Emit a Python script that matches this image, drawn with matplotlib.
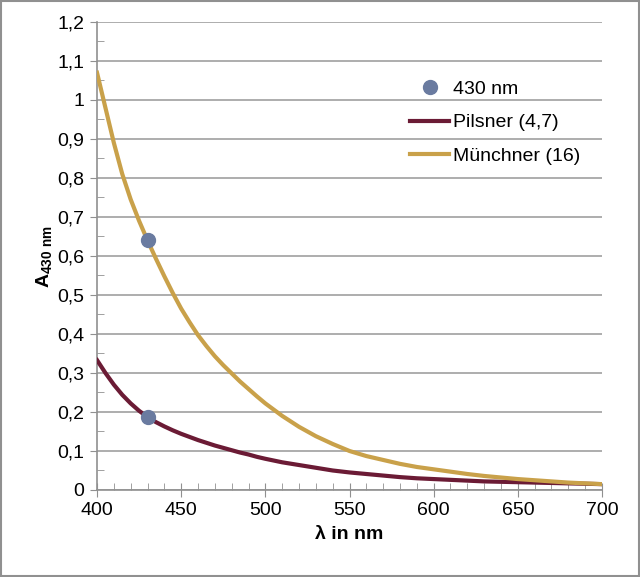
import matplotlib
matplotlib.use("Agg")
import matplotlib.pyplot as plt
from matplotlib.ticker import MultipleLocator, FuncFormatter

plt.rcParams['font.family'] = ['Liberation Sans', 'DejaVu Sans']
plt.rcParams['mathtext.fontset'] = 'custom'
plt.rcParams['mathtext.rm'] = 'Liberation Sans'
plt.rcParams['mathtext.bf'] = 'Liberation Sans:bold'

wavelength = [400, 405, 410, 415, 420, 425, 430, 435, 440, 445, 450,
              455, 460, 465, 470, 475, 480, 485, 490, 495, 500,
              510, 520, 530, 540, 550, 560, 570, 580, 590, 600,
              610, 620, 630, 640, 650, 660, 670, 680, 690, 700]
pilsner = [0.333, 0.300, 0.270, 0.244, 0.222, 0.203, 0.187, 0.174, 0.163, 0.153, 0.144,
           0.136, 0.128, 0.121, 0.114, 0.108, 0.102, 0.096, 0.091, 0.085, 0.080,
           0.071, 0.064, 0.057, 0.050, 0.045, 0.041, 0.037, 0.033, 0.030, 0.028,
           0.026, 0.024, 0.022, 0.021, 0.020, 0.019, 0.018, 0.017, 0.016, 0.015]
muenchner = [1.07, 0.98, 0.89, 0.81, 0.745, 0.69, 0.64, 0.593, 0.548, 0.505, 0.465,
             0.43, 0.397, 0.369, 0.343, 0.32, 0.299, 0.278, 0.259, 0.24, 0.222,
             0.19, 0.162, 0.138, 0.118, 0.1, 0.087, 0.077, 0.067, 0.059, 0.053,
             0.047, 0.041, 0.036, 0.032, 0.028, 0.025, 0.022, 0.019, 0.017, 0.015]
dot_x = [430, 430]
dot_y = [0.64, 0.188]

fig = plt.figure(figsize=(6.4, 5.77), dpi=100)
ax = fig.add_axes([0.1516, 0.1508, 0.789, 0.8111])

ax.plot(dot_x, dot_y, 'o', color='#6A7BA0', markersize=10, label='430 nm', zorder=4)
ax.plot(wavelength, pilsner, color='#6B1B35', lw=3, label='Pilsner (4,7)', zorder=3)
ax.plot(wavelength, muenchner, color='#C9A14A', lw=3, label='Münchner (16)', zorder=3)

ax.set_xlim(400, 700)
ax.set_ylim(0, 1.2)
ax.xaxis.set_major_locator(MultipleLocator(50))
ax.xaxis.set_minor_locator(MultipleLocator(10))
ax.yaxis.set_major_locator(MultipleLocator(0.1))
ax.yaxis.set_minor_locator(MultipleLocator(0.05))
ax.yaxis.set_major_formatter(FuncFormatter(lambda v, p: ('%.1f' % v).replace('.', ',') if round(v, 3) not in (0, 1) else '%d' % round(v)))

ax.grid(axis='y', which='major', color='#A0A0A0', lw=1.2)
ax.set_axisbelow(True)
for s in ['top', 'right']:
    ax.spines[s].set_visible(False)
for s in ['left', 'bottom']:
    ax.spines[s].set_color('#909090')
    ax.spines[s].set_linewidth(1.2)

ax.tick_params(which='major', axis='x', direction='inout', length=10, color='#909090', labelsize=14, pad=4)
ax.tick_params(which='major', axis='y', direction='out', length=5, color='#909090', labelsize=14, pad=4)
ax.tick_params(which='minor', direction='in', length=5, color='#909090')

ax.set_xlabel('λ in nm', fontsize=14, fontweight='bold', labelpad=5)
ax.set_ylabel(r'$\mathbf{A}_{\mathbf{430\ nm}}$', fontsize=14, labelpad=2)

ax.legend(loc='upper left', bbox_to_anchor=(0.586, 0.912), frameon=False, fontsize=14,
          handlelength=2.0, handletextpad=0.2, labelspacing=0.8)

fig.patches.append(plt.Rectangle((0.001, 0.001), 0.998, 0.998, transform=fig.transFigure,
                                 fill=False, edgecolor='#909090', lw=1.5))

fig.savefig('out.png', dpi=100)
